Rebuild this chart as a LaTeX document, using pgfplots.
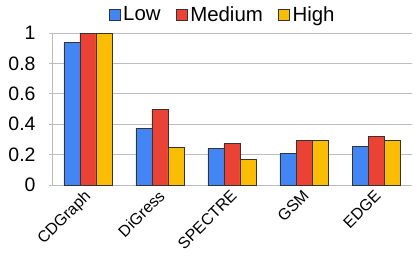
\documentclass[border=0pt]{standalone}
\usepackage{pgfplots}
\pgfplotsset{compat=1.18}
\usepackage{fontspec}
\usepackage{graphicx}
\setmainfont{Liberation Sans}
\definecolor{cLow}{HTML}{4285F4}
\definecolor{cMed}{HTML}{EA4335}
\definecolor{cHigh}{HTML}{FBBC04}
\definecolor{cGrid}{HTML}{BDBDBD}
\begin{document}
\begin{tikzpicture}
\begin{axis}[
  scale only axis,
  width=360bp, height=152bp,
  ybar=0pt, bar width=16bp,
  xmin=-0.5, xmax=4.5, ymin=0, ymax=1,
  axis lines*=left,
  axis line style={cGrid, line width=0.8pt, -},
  tick align=outside,
  major tick length=3bp,
  ytick style={cGrid, line width=0.8pt},
  xtick style={draw=none},
  xtick={0,1,2,3,4},
  xticklabels={\rotatebox{45}{CDGraph},\rotatebox{45}{DiGress},\rotatebox{45}{SPECTRE},\rotatebox{45}{GSM},\rotatebox{45}{EDGE}},
  xticklabel style={anchor=north east, font=\fontsize{16}{18}\selectfont, inner sep=0pt, yshift=-1bp, xshift=6bp},
  ytick={0,0.2,0.4,0.6,0.8,1},
  yticklabels={0,0.2,0.4,0.6,0.8,1},
  yticklabel style={font=\fontsize{19.5}{21}\selectfont, xshift=-10bp},
  ymajorgrids, grid style={cGrid, line width=0.8pt},
  legend style={at={(0.471,1.066)}, anchor=south, draw=none, legend columns=3, font=\fontsize{20.5}{22}\selectfont, nodes={inner sep=0pt}, /tikz/every odd column/.append style={column sep=3bp}, /tikz/every even column/.append style={column sep=15bp}, inner sep=0pt},
  legend image code/.code={\draw[#1, draw=black!80] (0bp,-5.5bp) rectangle (11bp,5.5bp);},
  clip=false,
]
\addplot[fill=cLow, draw=black!80, line width=0.6pt] coordinates {(0,0.936) (1,0.373) (2,0.239) (3,0.208) (4,0.255)};
\addplot[fill=cMed, draw=black!80, line width=0.6pt] coordinates {(0,1.0) (1,0.5) (2,0.274) (3,0.296) (4,0.32)};
\addplot[fill=cHigh, draw=black!80, line width=0.6pt] coordinates {(0,1.0) (1,0.248) (2,0.171) (3,0.296) (4,0.291)};
\legend{Low,Medium,High}
\coordinate (bbl) at (rel axis cs:-0.1444,-0.5);
\coordinate (btr) at (rel axis cs:1.00833,1.2171);
\end{axis}
\pgfresetboundingbox
\path (bbl) rectangle (btr);
\end{tikzpicture}
\end{document}
